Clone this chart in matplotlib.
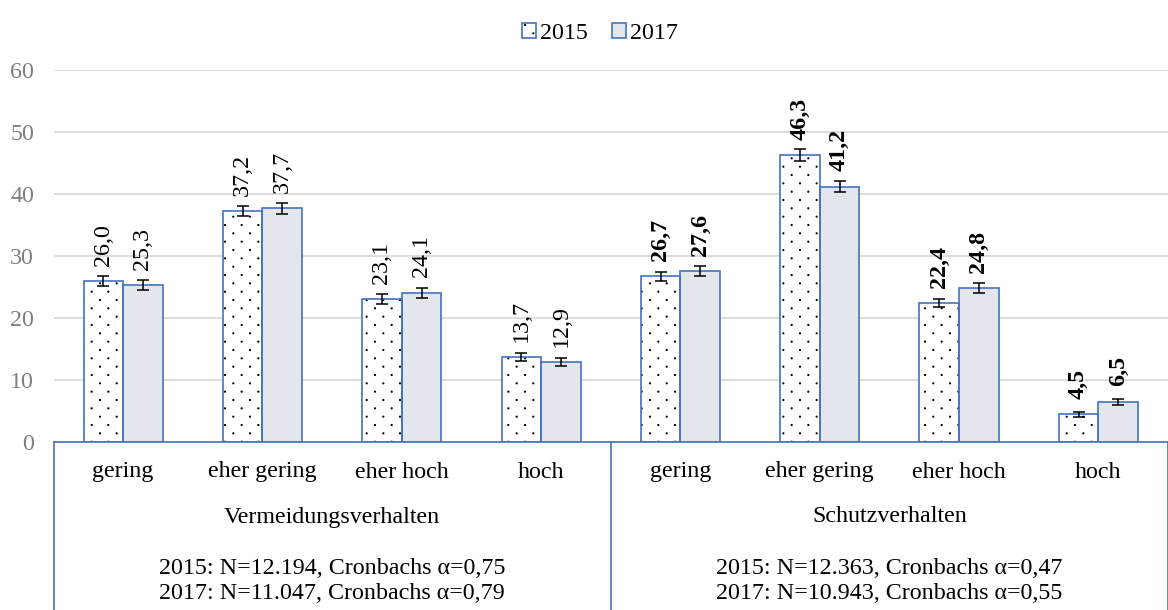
import matplotlib
matplotlib.use("Agg")
import matplotlib.pyplot as plt
import numpy as np
from matplotlib import hatch as mhatch
from matplotlib.path import Path
from matplotlib.patches import Patch
from matplotlib.legend_handler import HandlerTuple

categories = ["gering", "eher gering", "eher hoch", "hoch",
              "gering", "eher gering", "eher hoch", "hoch"]
groups = ["Vermeidungsverhalten", "Schutzverhalten"]
group_notes = ["2015: N=12.194, Cronbachs α=0,75\n2017: N=11.047, Cronbachs α=0,79",
               "2015: N=12.363, Cronbachs α=0,47\n2017: N=10.943, Cronbachs α=0,55"]
series_names = ["2015", "2017"]
values_2015 = [26.0, 37.2, 23.1, 13.7, 26.7, 46.3, 22.4, 4.5]
values_2017 = [25.3, 37.7, 24.1, 12.9, 27.6, 41.2, 24.8, 6.5]
err_2015 = [0.8, 0.8, 0.8, 0.6, 0.8, 0.9, 0.7, 0.4]
err_2017 = [0.8, 0.9, 0.8, 0.6, 0.8, 0.9, 0.8, 0.5]
bold_labels = [False] * 4 + [True] * 4
yticks = [0, 10, 20, 30, 40, 50, 60]


# custom dotted texture: staggered small dots (Excel "dotted" pattern)
class DotLattice(mhatch.HatchPatternBase):
    def __init__(self, hatch, density):
        n = hatch.count('.')
        circ = Path.unit_circle()
        self.sv = circ.vertices
        self.sc = circ.codes
        self.pts = []
        if n:
            ncols = 6 * n
            nrows = 12 * n
            for r in range(nrows + 1):
                off = 0.5 if r % 2 else 0.0
                for c in range(ncols + 1):
                    xx = (c + off) / ncols
                    if xx <= 1.0:
                        self.pts.append((xx, r / nrows))
        self.num_vertices = len(self.pts) * len(self.sv)

    def set_vertices_and_codes(self, vertices, codes):
        rad = 0.006
        k = len(self.sv)
        for i, (px, py) in enumerate(self.pts):
            vertices[i * k:(i + 1) * k] = self.sv * rad + (px, py)
            codes[i * k:(i + 1) * k] = self.sc


mhatch._hatch_types = [h for h in mhatch._hatch_types
                       if h is not mhatch.SmallFilledCircles] + [DotLattice]

plt.rcParams['font.family'] = ['Liberation Serif', 'DejaVu Serif']
plt.rcParams['hatch.linewidth'] = 0.7

W, H = 1168, 610
fig = plt.figure(figsize=(W / 100, H / 100), dpi=100)
ax_left, ax_right = 53.5, 1168
ax_top, ax_bottom = 70, 442
ax = fig.add_axes([ax_left / W, 1 - ax_bottom / H, (ax_right - ax_left) / W, (ax_bottom - ax_top) / H])

blue = "#4472C4"
fill17 = "#E3E6EC"
x = np.arange(len(categories))
bw = 0.284
fs = 17.3

ax.set_ylim(0, 60)
ax.set_xlim(-0.5, len(categories) - 0.5)
ax.set_yticks(yticks)
ax.set_yticklabels([str(t) for t in yticks], color="#7F7F7F", fontsize=fs)
ax.tick_params(axis='y', length=0, pad=14)
ax.tick_params(axis='x', length=0, labelbottom=False)
ax.grid(axis='y', color="#D9D9D9", linewidth=1.3)
ax.set_axisbelow(True)
for s in ["top", "right", "left"]:
    ax.spines[s].set_visible(False)
ax.spines["bottom"].set_color(blue)
ax.spines["bottom"].set_linewidth(1.2)
ax.spines["bottom"].set_zorder(4)

ax.bar(x - bw / 2, values_2015, bw, color="white", edgecolor='black', linewidth=0,
       hatch='.', zorder=2)
ax.bar(x - bw / 2, values_2015, bw, fill=False, edgecolor=blue, linewidth=1.2, zorder=2.5)
ax.bar(x + bw / 2, values_2017, bw, color=fill17, edgecolor=blue, linewidth=1.2, zorder=2)
ax.errorbar(x - bw / 2, values_2015, yerr=err_2015, fmt='none', ecolor='black',
            elinewidth=1.1, capsize=4.5, capthick=1.1, zorder=3)
ax.errorbar(x + bw / 2, values_2017, yerr=err_2017, fmt='none', ecolor='black',
            elinewidth=1.1, capsize=4.5, capthick=1.1, zorder=3)

for i in range(len(categories)):
    fw = 'bold' if bold_labels[i] else 'normal'
    for xv, v in ((x[i] - bw / 2, values_2015[i]), (x[i] + bw / 2, values_2017[i])):
        ax.annotate(f"{v:.1f}".replace('.', ','), (xv, v), xytext=(0, 11),
                    textcoords='offset points', rotation=90, ha='center', va='bottom',
                    fontsize=fs, fontweight=fw, color='black')

xt = ax.get_xaxis_transform()


def fy(py):
    return -(py - ax_bottom) / (ax_bottom - ax_top)


for i, c in enumerate(categories):
    ax.text(x[i], fy(472), c, transform=xt, ha='center', va='center', fontsize=fs)
for g in range(2):
    cx = 1.5 + 4 * g
    ax.text(cx, fy(517), groups[g], transform=xt, ha='center', va='center', fontsize=fs)
    ax.text(cx, fy(581), group_notes[g], transform=xt, ha='center', va='center',
            fontsize=fs, linespacing=1.22)

for xl in (-0.5, 3.5, 7.5):
    ax.plot([xl, xl], [0, fy(615)], transform=xt, color=blue, linewidth=1.2, clip_on=False)

h15 = (Patch(facecolor='white', edgecolor='black', linewidth=0, hatch='.'),
       Patch(facecolor='none', edgecolor=blue, linewidth=1.2))
h17 = Patch(facecolor=fill17, edgecolor=blue, linewidth=1.2)
fig.legend(handles=[h15, h17], labels=series_names, loc='upper center',
           bbox_to_anchor=(600 / W, 1 - 1 / H), ncol=2, frameon=False, fontsize=fs,
           handlelength=0.6, handleheight=0.6, handletextpad=0.15, columnspacing=1.0,
           handler_map={tuple: HandlerTuple(ndivide=1, pad=0)})

fig.savefig("out.png", dpi=100)
